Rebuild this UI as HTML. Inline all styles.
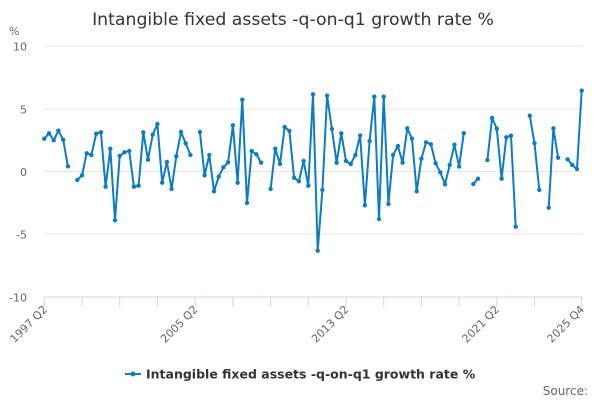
<!DOCTYPE html>
<html>
<head>
<meta charset="utf-8">
<style>
html,body{margin:0;padding:0;background:#fff;}
svg{display:block;}
text{font-family:"DejaVu Sans","Liberation Sans",sans-serif;}
</style>
</head>
<body>
<svg width="600" height="400" viewBox="0 0 600 400" xmlns="http://www.w3.org/2000/svg">
<defs>
<marker id="m" markerUnits="userSpaceOnUse" markerWidth="6" markerHeight="6" refX="3" refY="3">
<circle cx="3" cy="3" r="2.2" fill="#0d7cc1"/>
</marker>
</defs>
<rect width="600" height="400" fill="#fff"/>
<text x="293" y="25" font-size="17.3" fill="#333" text-anchor="middle">Intangible fixed assets -q-on-q1 growth rate %</text>

<!-- grid -->
<g stroke="#e6e6e6" stroke-width="1">
<line x1="44" y1="46" x2="583" y2="46"/>
<line x1="44" y1="109" x2="583" y2="109"/>
<line x1="44" y1="171.5" x2="583" y2="171.5"/>
<line x1="44" y1="234" x2="583" y2="234"/>
</g>
<line x1="44" y1="297" x2="583" y2="297" stroke="#ccd6eb" stroke-width="1"/>
<g stroke="#ccd6eb" stroke-width="1">
<line x1="44.3" y1="297" x2="44.3" y2="307"/>
<line x1="82.0" y1="297" x2="82.0" y2="307"/>
<line x1="119.7" y1="297" x2="119.7" y2="307"/>
<line x1="157.4" y1="297" x2="157.4" y2="307"/>
<line x1="195.2" y1="297" x2="195.2" y2="307"/>
<line x1="232.9" y1="297" x2="232.9" y2="307"/>
<line x1="270.6" y1="297" x2="270.6" y2="307"/>
<line x1="308.3" y1="297" x2="308.3" y2="307"/>
<line x1="346.0" y1="297" x2="346.0" y2="307"/>
<line x1="383.7" y1="297" x2="383.7" y2="307"/>
<line x1="421.4" y1="297" x2="421.4" y2="307"/>
<line x1="459.1" y1="297" x2="459.1" y2="307"/>
<line x1="496.8" y1="297" x2="496.8" y2="307"/>
<line x1="534.5" y1="297" x2="534.5" y2="307"/>
<line x1="581.7" y1="297" x2="581.7" y2="307"/>
</g>

<!-- y labels -->
<g font-size="11" fill="#666" text-anchor="end">
<text x="27" y="50.5">10</text>
<text x="27" y="113.5">5</text>
<text x="27" y="176">0</text>
<text x="27" y="238.5">-5</text>
<text x="27" y="301.5">-10</text>
</g>
<text x="9" y="35" font-size="11" fill="#666">%</text>

<!-- x labels -->
<g font-size="11" fill="#666" text-anchor="end">
<text transform="translate(48,310) rotate(-45)">1997 Q2</text>
<text transform="translate(198.5,310) rotate(-45)">2005 Q2</text>
<text transform="translate(349.5,310) rotate(-45)">2013 Q2</text>
<text transform="translate(500,310) rotate(-45)">2021 Q2</text>
<text transform="translate(585,310) rotate(-45)">2025 Q4</text>
</g>

<!-- series -->
<g fill="none" stroke="#0d7cc1" stroke-width="2" stroke-linejoin="round" stroke-linecap="round" marker-start="url(#m)" marker-mid="url(#m)" marker-end="url(#m)">
<polyline points="44.3,138.7 49.0,133.3 53.7,140.3 58.4,130.7 63.2,139.7 67.9,166.3"/>
<polyline points="77.3,180 82.0,175.3 86.7,153.3 91.4,155 96.2,133.7 100.9,132.3 105.6,186.7 110.3,148.7 115.0,220.3 119.7,156 124.4,152.3 129.2,151 133.9,186.7 138.6,185.7 143.3,132.3 148.0,159.7 152.7,134.7 157.4,124 162.2,182.7 166.9,162 171.6,189 176.3,156.3 181.0,132 185.7,143.3 190.4,155"/>
<polyline points="199.9,132 204.6,175.3 209.3,155 214.0,191.3 218.7,176.7 223.4,167.3 228.1,162.3 232.9,125.3 237.6,182.7 242.3,99.7 247.0,203 251.7,151 256.4,154.3 261.1,162.7"/>
<polyline points="270.6,189 275.3,148.7 280.0,164 284.7,127 289.4,131 294.1,177.7 298.9,181.3 303.6,161 308.3,185.7 313.0,94.3 317.7,250.7 322.4,190 327.1,95.7 331.9,129 336.6,162.7 341.3,133.3 346.0,161 350.7,164 355.4,155 360.1,135.5 364.9,205.3 369.6,141 374.3,96.7 379.0,219 383.7,96.7 388.4,204 393.1,155 397.9,146 402.6,162.7 407.3,128.3 412.0,138.7 416.7,191.3 421.4,158.7 426.1,142.3 430.9,144.3 435.6,163.3 440.3,172.3 445.0,184.3 449.7,165 454.4,144.7 459.1,166.5 463.8,133.2"/>
<polyline points="473.3,184 478.0,178.7"/>
<polyline points="487.4,160 492.1,118 496.8,128.7 501.6,178.7 506.3,137.3 511.0,135.7 515.7,226.7"/>
<polyline points="529.8,115.7 534.5,143.3 539.3,190"/>
<polyline points="548.7,207.7 553.4,128.3 558.1,157.7"/>
<polyline points="567.6,159.3 572.3,165 577.0,169 581.7,90.7"/>
</g>

<!-- legend -->
<line x1="125" y1="374" x2="141" y2="374" stroke="#0d7cc1" stroke-width="2"/>
<circle cx="133" cy="374" r="2.5" fill="#0d7cc1"/>
<text x="146" y="378.5" font-size="12.5" font-weight="bold" fill="#333">Intangible fixed assets -q-on-q1 growth rate %</text>

<text x="588" y="395" font-size="12" fill="#666" text-anchor="end">Source:</text>
</svg>
</body>
</html>
